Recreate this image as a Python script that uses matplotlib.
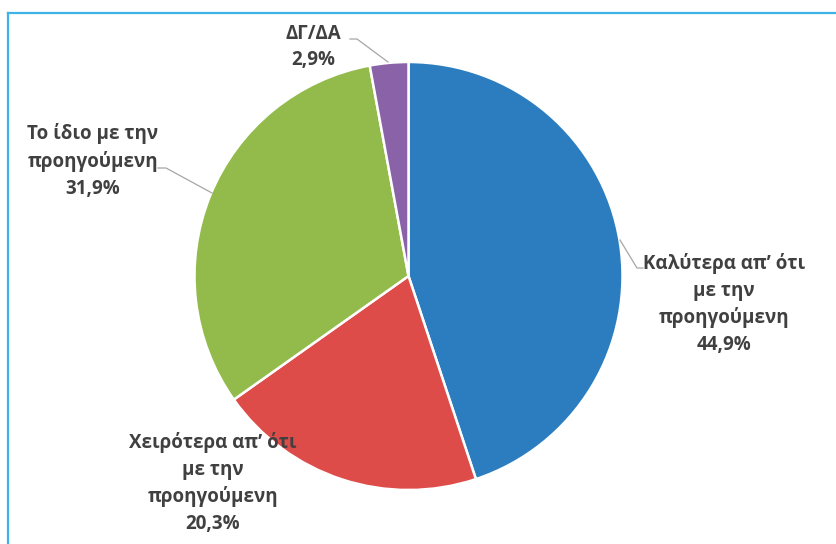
import matplotlib
matplotlib.use("Agg")
import matplotlib.pyplot as plt
from matplotlib.lines import Line2D

categories = ["Καλύτερα απ’ ότι\nμε την\nπροηγούμενη",
              "Χειρότερα απ’ ότι\nμε την\nπροηγούμενη",
              "Το ίδιο με την\nπροηγούμενη",
              "ΔΓ/ΔΑ"]
values = [44.9, 20.3, 31.9, 2.9]
colors = ["#2B7DC0", "#DE4C49", "#93BB4B", "#8A62A8"]

W, H = 836, 544
fig = plt.figure(figsize=(W / 100, H / 100), dpi=100)
ax = fig.add_axes([0, 0, 1, 1])
ax.set_xlim(0, W)
ax.set_ylim(0, H)
ax.set_aspect("equal")
ax.axis("off")

cx, cy, r = 408.5, H - 276, 214
ax.pie(values, colors=colors, startangle=90, counterclock=False,
       center=(cx, cy), radius=r, frame=True,
       wedgeprops=dict(edgecolor="white", linewidth=1.8))
ax.set_xlim(0, W)
ax.set_ylim(0, H)
ax.axis("off")

def fmt(v):
    return f"{v:.1f}%".replace(".", ",")

label_pos = [(724, 304), (213, 483), (93, 161), (313, 47)]
font = dict(family=["Open Sans", "DejaVu Sans"], fontsize=13.5, fontweight="bold",
            color="#404040", ha="center", va="center", linespacing=1.42)
for cat, v, (x, y) in zip(categories, values, label_pos):
    ax.text(x, H - y, f"{cat}\n{fmt(v)}", **font)

# leader lines
lc = "#A6A6A6"
leaders = [
    [(620, 240), (637, 268), (643, 268)],
    [(158, 168), (166, 168), (212, 193)],
    [(350, 39), (357, 39), (388, 62)],
]
for pts in leaders:
    xs = [p[0] for p in pts]
    ys = [H - p[1] for p in pts]
    ax.add_line(Line2D(xs, ys, color=lc, lw=0.9))

# border
bc = "#3DB3E6"
ax.add_line(Line2D([7.5, 7.5], [0, H - 13], color=bc, lw=1.6, clip_on=False))
ax.add_line(Line2D([7.5, W], [H - 13, H - 13], color=bc, lw=1.6, clip_on=False))

fig.savefig("out.png", dpi=100, facecolor="white")
